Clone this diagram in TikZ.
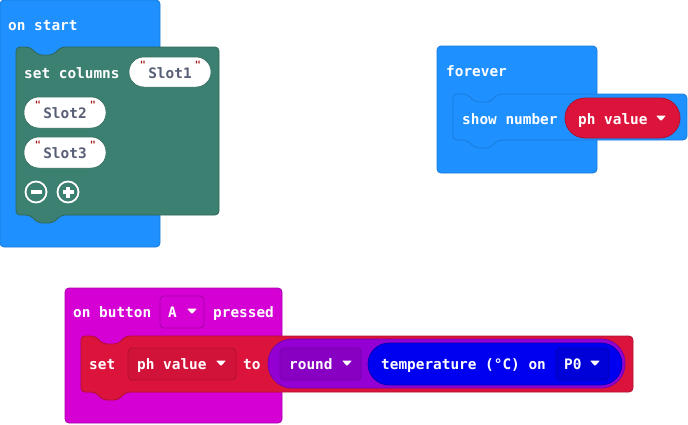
\documentclass[tikz,border=0pt]{standalone}
\usepackage{fontspec}
\newfontfamily\blockfont{DejaVu Sans Mono}
\definecolor{basicblue}{HTML}{1E90FF}
\definecolor{basicedge}{HTML}{1A7BDB}
\definecolor{logteal}{HTML}{3B8070}
\definecolor{logedge}{HTML}{2F6659}
\definecolor{inputmag}{HTML}{D400D4}
\definecolor{inputedge}{HTML}{A900A9}
\definecolor{varred}{HTML}{DC143C}
\definecolor{varedge}{HTML}{B0102F}
\definecolor{varfield}{HTML}{D21339}
\definecolor{mathpurple}{HTML}{9400D3}
\definecolor{mathedge}{HTML}{7600A9}
\definecolor{mathfield}{HTML}{8800C2}
\definecolor{pinblue}{HTML}{0000F0}
\definecolor{pinedge}{HTML}{0000B4}
\definecolor{pinfield}{HTML}{0000D8}
\definecolor{strgray}{HTML}{575E75}
\definecolor{quotered}{HTML}{A31515}
% statement block with top notch and bottom tab: style, left, top, right, bottom
\newcommand{\stmtblock}[5]{%
  \draw[#1, rounded corners=4] (#2,#3) -- ++(14,0) -- ++(8,8) -- ++(15,0) -- ++(8,-8)
    -- (#4,#3) -- (#4,#5) -- (#2+45,#5) -- ++(-8,8) -- ++(-15,0) -- ++(-8,-8)
    -- (#2,#5) -- cycle;}
% white dropdown arrow centred at (x,y)
\newcommand{\droparrow}[2]{%
  \fill[white, rounded corners=0.8] (#1-5,#2-2.5) -- (#1+5,#2-2.5) -- (#1,#2+3) -- cycle;}
\begin{document}
\begin{tikzpicture}[x=1pt,y=-1pt,
  lbl/.style={anchor=west, text=white, inner sep=0, text height=12, text depth=0.5,
    font=\blockfont\bfseries\fontsize{14.4}{16}\selectfont},
  strtxt/.style={text=strgray, inner sep=0, text height=12, text depth=0.5,
    font=\blockfont\bfseries\fontsize{14.4}{16}\selectfont},
  quote/.style={text=quotered, inner sep=0,
    font=\blockfont\bfseries\fontsize{10}{12}\selectfont},
  strpill/.style={fill=white, draw=logedge, line width=0.5, rounded corners=15},
  field/.style={rounded corners=4, line width=0.8}]
\useasboundingbox (0,0) rectangle (688,424);

% ---------- on start ----------
\draw[fill=basicblue, draw=basicedge, line width=0.8, rounded corners=4] (0,0) rectangle (160,247);
\node[lbl] (onstart) at (8,25) {on start};
\stmtblock{fill=logteal, draw=logedge, line width=0.8}{16}{47}{219}{215}
\node[lbl] (setcols) at (24,73) {set columns};
\draw[strpill] (129,57) rectangle (211,87);
\node[strtxt] (slot1) at (170,73) {Slot1};
\node[quote] (q1a) at (143,65) {"};
\node[quote] (q1b) at (198,65) {"};
\draw[strpill] (24,97) rectangle (106,128);
\node[strtxt] (slot2) at (65,113) {Slot2};
\node[quote] (q2a) at (38,105) {"};
\node[quote] (q2b) at (93,105) {"};
\draw[strpill] (24,137) rectangle (106,168);
\node[strtxt] (slot3) at (65,153) {Slot3};
\node[quote] (q3a) at (38,145) {"};
\node[quote] (q3b) at (93,145) {"};
% minus / plus buttons
\draw[white, line width=1.8] (36,192) circle (10.5);
\draw[white, line width=3.2] (30.5,192) -- (41.5,192);
\draw[white, line width=1.8] (68,192) circle (10.5);
\draw[white, line width=3.2] (62.5,192) -- (73.5,192) (68,186.5) -- (68,197.5);

% ---------- forever ----------
\draw[fill=basicblue, draw=basicedge, line width=0.8, rounded corners=4] (437,46) rectangle (597,173);
\node[lbl] (forever) at (446,71) {forever};
\stmtblock{fill=basicblue, draw=basicedge, line width=0.8}{453}{94}{687}{140}
\node[lbl] (shownum) at (462,119) {show number};
\draw[fill=varred, draw=varedge, line width=0.8, rounded corners=20] (565,98) rectangle (680,138);
\node[lbl] (phval1) at (578,119) {ph value};
\droparrow{661}{118}

% ---------- on button A pressed ----------
\draw[fill=inputmag, draw=inputedge, line width=0.8, rounded corners=4] (65,288) rectangle (282,423);
\node[lbl] (onbutton) at (73,312) {on button};
\draw[field, fill=inputmag, draw=inputedge] (160,296) rectangle (204,328);
\node[lbl] (btnA) at (168,312) {A};
\droparrow{192}{311}
\node[lbl] (pressed) at (213,312) {pressed};
\stmtblock{fill=varred, draw=varedge, line width=0.8}{81}{336}{633}{392}
\node[lbl] (setlbl) at (89,364) {set};
\draw[field, fill=varfield, draw=varedge] (128,348) rectangle (236,380);
\node[lbl] (phval2) at (137,364) {ph value};
\droparrow{221}{363}
\node[lbl] (tolbl) at (243,364) {to};
\draw[fill=mathpurple, draw=mathedge, line width=0.8, rounded corners=24] (268,339) rectangle (625,388);
\draw[field, fill=mathfield, draw=mathedge] (280,348) rectangle (361,380);
\node[lbl] (roundlbl) at (289,364) {round};
\droparrow{347}{363}
\draw[fill=pinblue, draw=pinedge, line width=0.8, rounded corners=21] (368,343) rectangle (622,385);
\node[lbl] (templbl) at (381,364) {temperature (°C) on};
\draw[field, fill=pinfield, draw=pinedge] (556,348) rectangle (609,380);
\node[lbl] (pinlbl) at (564,364) {P0};
\droparrow{595}{363}
\end{tikzpicture}
\end{document}
